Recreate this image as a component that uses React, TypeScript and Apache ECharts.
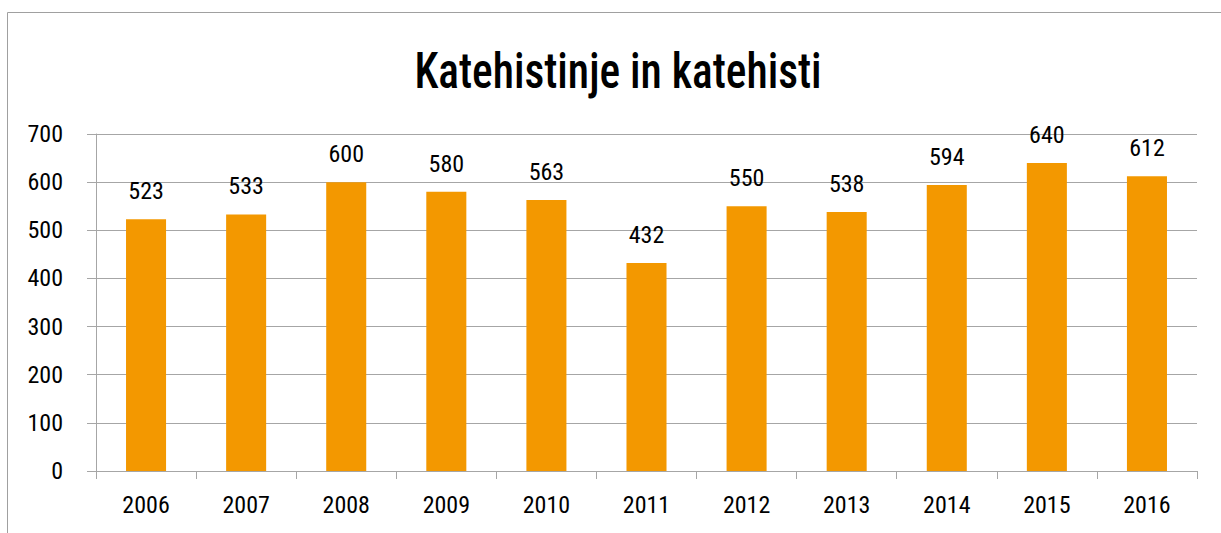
import React, { useEffect, useRef } from "react";
import * as echarts from "echarts";

const years = ["2006", "2007", "2008", "2009", "2010", "2011", "2012", "2013", "2014", "2015", "2016"];
const values = [523, 533, 600, 580, 563, 432, 550, 538, 594, 640, 612];
const titleText = "Katehistinje in katehisti";

const FONT = "'Roboto Condensed', 'DejaVu Sans Condensed', sans-serif";

export default function App() {
  const ref = useRef<HTMLDivElement>(null);
  useEffect(() => {
    document.body.style.margin = "0";
    const chart = echarts.init(ref.current!, null, { renderer: "svg" });
    chart.setOption({
      animation: false,
      backgroundColor: "#ffffff",
      graphic: [
        {
          type: "rect",
          shape: { x: 7.5, y: 12.5, width: 1400, height: 700 },
          style: { fill: "none", stroke: "#a0a0a0", lineWidth: 1 },
          silent: true,
        },
        {
          type: "text",
          x: 618,
          y: 71,
          scaleX: 0.87,
          style: {
            text: titleText,
            font: "500 50px " + FONT,
            fill: "#000",
            textAlign: "center",
            textVerticalAlign: "middle",
          },
          silent: true,
        },
      ],
      grid: { left: 96, right: 24, top: 134, bottom: 62 },
      xAxis: {
        type: "category",
        data: years,
        axisLine: { lineStyle: { color: "#a6a6a6" } },
        axisTick: { show: true, length: 8, lineStyle: { color: "#a6a6a6" } },
        axisLabel: { fontFamily: FONT, fontSize: 24, color: "#000", margin: 22 },
      },
      yAxis: {
        type: "value",
        min: 0,
        max: 700,
        interval: 100,
        axisLine: { show: true, lineStyle: { color: "#a6a6a6" } },
        axisTick: { show: true, length: 9, lineStyle: { color: "#a6a6a6" } },
        splitLine: { lineStyle: { color: "#a6a6a6" } },
        axisLabel: { fontFamily: FONT, fontSize: 24, color: "#000", margin: 33 },
      },
      series: [
        {
          type: "bar",
          data: values,
          barWidth: "40%",
          itemStyle: { color: "#F39800" },
          label: {
            show: true,
            position: "top",
            distance: 16,
            fontFamily: FONT,
            fontSize: 24,
            color: "#000",
          },
        },
      ],
    });
    return () => chart.dispose();
  }, []);
  return <div ref={ref} style={{ width: 1221, height: 533 }} />;
}
